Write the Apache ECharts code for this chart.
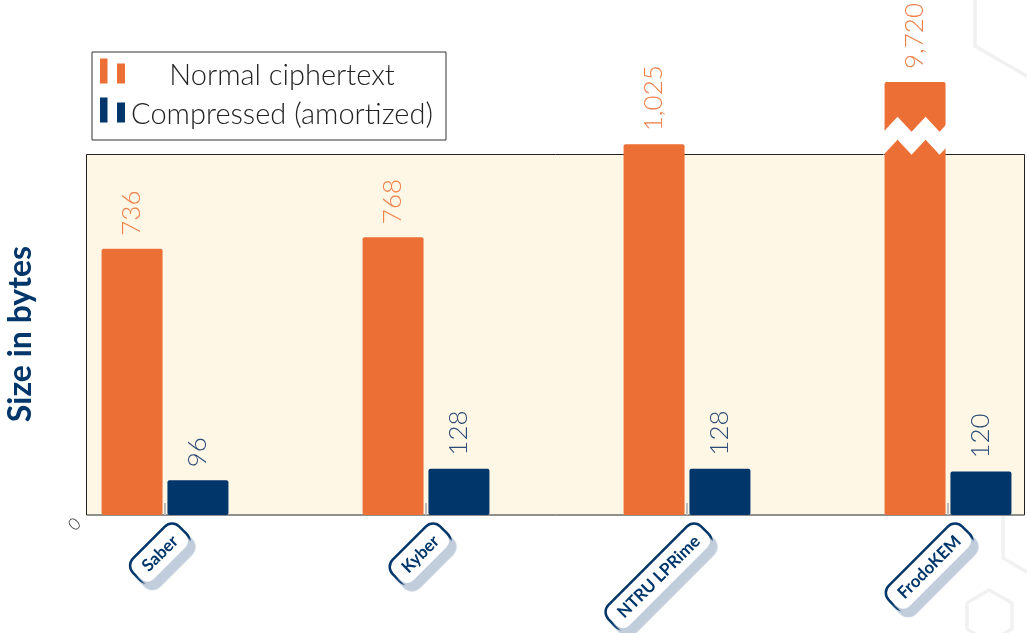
<!DOCTYPE html>
<html>
<head>
<meta charset="utf-8">
<title>Ciphertext sizes</title>
<script src="https://cdn.jsdelivr.net/npm/echarts@6/dist/echarts.min.js"></script>
<style>
  html, body { margin: 0; padding: 0; background: #ffffff; }
  #chart { width: 1027px; height: 633px; }
</style>
</head>
<body>
<div id="chart"></div>
<script>
// ---- data ----
const categories = ['Saber', 'Kyber', 'NTRU LPRime', 'FrodoKEM'];
const normalCiphertext = [736, 768, 1025, 9720];
const compressedAmortized = [96, 128, 128, 120];
const seriesNames = ['Normal ciphertext', 'Compressed (amortized)'];
const yTickLabels = ['0'];
const yAxisTitle = 'Size in bytes';
// the value axis skips this range so the FrodoKEM bar fits
const yBreak = { start: 1040, end: 9580, gap: 17 };

// ---- style ----
const ORANGE = '#EC6F35';
const NAVY = '#00366A';
const ORANGE_LABEL = '#EF8049';
const NAVY_LABEL = '#2C4C78';
const CREAM = '#FFF7E6';
const BAR_WIDTH = 61;
const BAR_GAP = 0.08;

const chart = echarts.init(document.getElementById('chart'), null, { renderer: 'canvas' });

const valueLabel = (color) => ({
  show: true,
  position: 'top',
  rotate: 90,
  align: 'left',
  verticalAlign: 'middle',
  distance: 13,
  fontFamily: 'Lato',
  fontWeight: 300,
  fontSize: 26,
  color: color,
  formatter: (p) => p.value.toLocaleString('en-US')
});

// white zigzag band drawn across the broken bar
function renderBreakBand(params, api) {
  const idx = api.value(0);
  const cx = api.coord([idx, 0])[0] - (BAR_WIDTH * (1 + BAR_GAP)) / 2;
  const yS = api.coord([idx, yBreak.start])[1];
  const yE = api.coord([idx, yBreak.end])[1];
  const mid = (yS + yE) / 2;
  const period = 28, amp = 7.5, thick = 23;
  const left = cx - 57, right = cx + 49;
  const origin = cx - 31.5;
  const f = (x) => {
    const p = (((x - origin) % period) + period) % period;
    const h = period / 2;
    return p <= h ? amp - (2 * amp * p) / h : -amp + (2 * amp * (p - h)) / h;
  };
  const xs = [left];
  let v = origin - period * 10;
  while (v < right) {
    if (v > left) xs.push(v);
    v += period / 2;
  }
  xs.push(right);
  const upper = xs.map((x) => [x, mid - thick / 2 + f(x)]);
  const lower = xs.slice().reverse().map((x) => [x, mid + thick / 2 + f(x)]);
  return {
    type: 'polygon',
    shape: { points: upper.concat(lower) },
    style: { fill: '#ffffff', stroke: null }
  };
}

const hexStroke = { stroke: '#F1F1F1', lineWidth: 3.5, fill: null, lineJoin: 'round' };

const option = {
  animation: false,
  backgroundColor: '#ffffff',
  textStyle: { fontFamily: 'Lato' },
  graphic: [
    // faint hexagon decorations
    { type: 'polyline', z: -10, silent: true, shape: { points: [[975, -5], [975, 46], [1035, 81]] }, style: hexStroke },
    { type: 'polyline', z: -10, silent: true, shape: { points: [[1003, 516], [1003, 558], [1035, 577]] }, style: hexStroke },
    { type: 'polygon', z: -10, silent: true, shape: { points: [[989, 590], [1012, 603], [1012, 629], [989, 642], [967, 629], [967, 603]] }, style: hexStroke },
    // plot panel
    {
      type: 'rect', z: 0, silent: true,
      shape: { x: 86.5, y: 154.5, width: 938, height: 360.5 },
      style: { fill: CREAM, stroke: '#222222', lineWidth: 1 }
    },
    // value-axis title
    {
      type: 'text', z: 5, silent: true,
      x: 21, y: 334, rotation: Math.PI / 2,
      style: {
        text: yAxisTitle, fill: NAVY, align: 'center', verticalAlign: 'middle',
        fontFamily: 'Lato', fontWeight: 'bold', fontSize: 32
      }
    }
  ],
  legend: {
    data: seriesNames,
    orient: 'vertical',
    left: 92,
    top: 52,
    padding: [0, 12, 11, 8],
    backgroundColor: '#ffffff',
    borderColor: '#333333',
    borderWidth: 1,
    itemWidth: 25,
    itemHeight: 25,
    itemGap: 1,
    icon: 'path://M0,0h7.5v25h-7.5z M17,5h8v20h-8z',
    selectedMode: false,
    formatter: (name) => '{t|' + name + '}',
    textStyle: {
      rich: {
        t: {
          width: 304, align: 'center', lineHeight: 29, padding: [9, 0, 0, 0],
          fontFamily: 'Lato', fontWeight: 300, fontSize: 29, color: '#222222'
        }
      }
    }
  },
  grid: {
    left: 34.5,
    width: 1044,
    top: 82,
    bottom: 118,
    outerBoundsMode: 'none'
  },
  xAxis: {
    type: 'category',
    data: categories,
    axisLine: { show: false },
    axisTick: {
      show: true, inside: true, alignWithLabel: true, length: 12,
      lineStyle: { color: '#BDBDBD', width: 2 }
    },
    axisLabel: {
      interval: 0,
      rotate: 45,
      margin: -1,
      align: 'right',
      verticalAlign: 'top',
      formatter: (name) => '{tag|' + name + '}',
      rich: {
        // boxed category tag; the taller line box pushes it off the tick diagonal
        tag: {
          color: NAVY,
          fontFamily: 'Lato',
          fontWeight: 'bold',
          fontSize: 17,
          verticalAlign: 'middle',
          lineHeight: 48,
          backgroundColor: '#ffffff',
          borderColor: NAVY,
          borderWidth: 2.5,
          borderRadius: 9,
          padding: [6, 10, 5, 10],
          shadowColor: '#C2CDDC',
          shadowOffsetX: 5,
          shadowOffsetY: 6,
          shadowBlur: 1
        }
      }
    },
    splitLine: { show: false }
  },
  yAxis: {
    type: 'value',
    min: 0,
    max: 9720,
    offset: -51.5,
    breaks: [yBreak],
    breakArea: { show: false },
    axisLine: { show: false },
    axisTick: { show: false },
    splitLine: { show: false },
    axisLabel: {
      show: true,
      rotate: 45,
      margin: 14,
      verticalAlign: 'top',
      fontFamily: 'Lato',
      fontWeight: 300,
      fontSize: 17,
      color: '#333333',
      formatter: (v) => (yTickLabels.includes(String(v)) ? String(v) : '')
    }
  },
  series: [
    {
      name: seriesNames[0],
      type: 'bar',
      data: normalCiphertext,
      barWidth: BAR_WIDTH,
      barGap: (BAR_GAP * 100) + '%',
      itemStyle: { color: ORANGE, borderRadius: 2 },
      label: valueLabel(ORANGE_LABEL),
      z: 2
    },
    {
      name: seriesNames[1],
      type: 'bar',
      data: compressedAmortized,
      barWidth: BAR_WIDTH,
      itemStyle: { color: NAVY, borderRadius: 2 },
      label: valueLabel(NAVY_LABEL),
      z: 2
    },
    {
      type: 'custom',
      data: [[categories.length - 1, 0]],
      encode: { x: 0, y: 1 },
      renderItem: renderBreakBand,
      silent: true,
      z: 6
    }
  ]
};

chart.setOption(option);
</script>
</body>
</html>
